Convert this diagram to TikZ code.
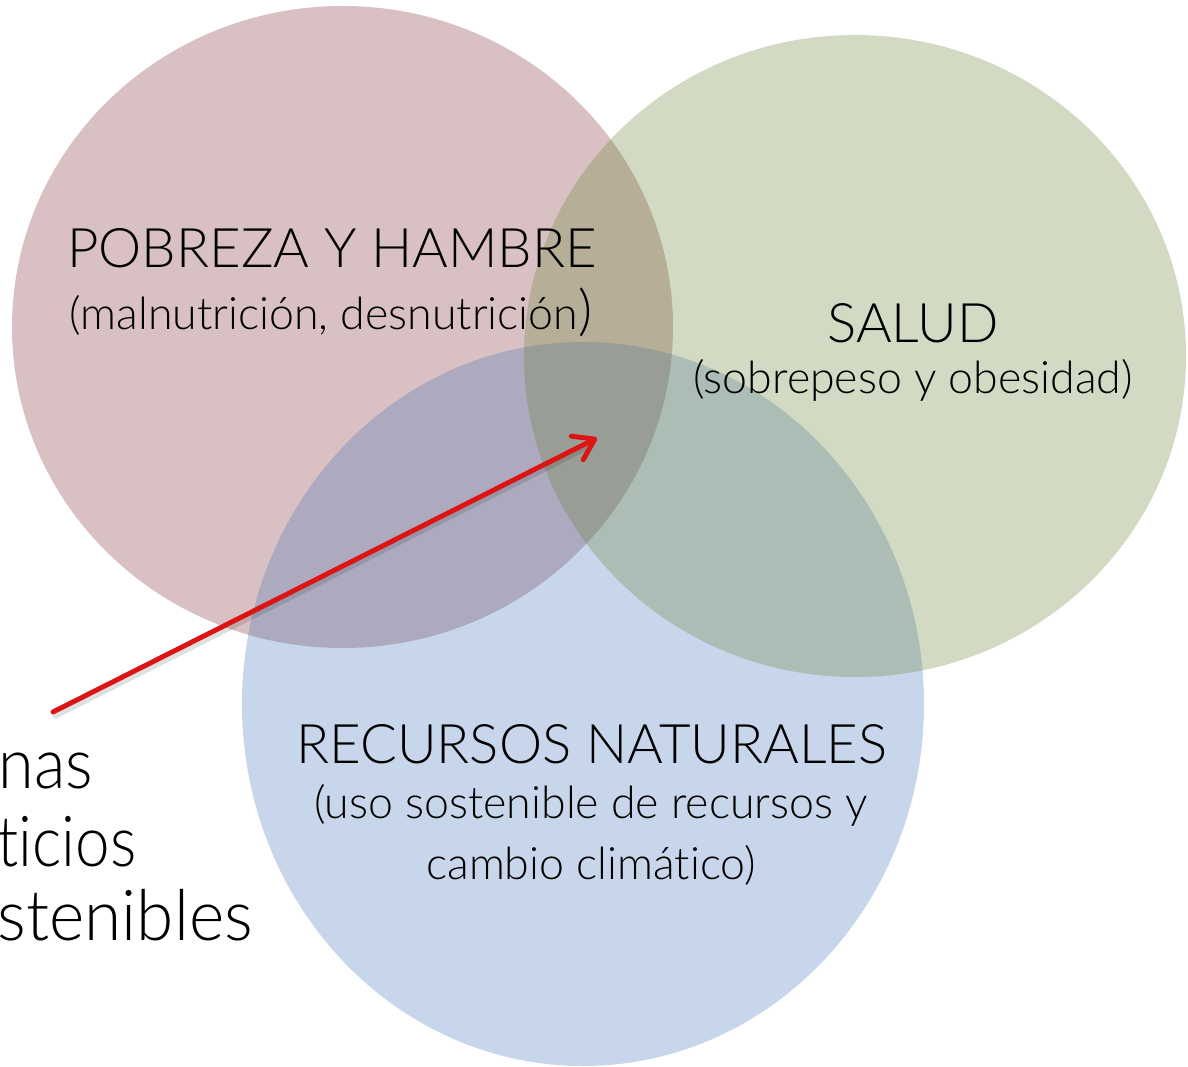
\documentclass[tikz,border=0pt]{standalone}
\usepackage{fontspec}
\usepackage{graphicx}
\setmainfont{Lato}[UprightFont={* Light}, Ligatures=NoCommon]
\usetikzlibrary{arrows.meta}
\definecolor{cred}{RGB}{128,48,52}
\definecolor{cgreen}{RGB}{105,132,55}
\definecolor{cblue}{RGB}{72,118,188}
\definecolor{arrowred}{RGB}{220,20,20}
\tikzset{
  disc/.style={fill=#1, opacity=0.3},
  titletext/.style={inner sep=0pt, anchor=base, font=\fontsize{15.5}{18}\selectfont},
  subtext/.style={inner sep=0pt, anchor=base, font=\fontsize{12.7}{15}\selectfont},
  sidetext/.style={inner sep=0pt, anchor=base west, font=\fontsize{20}{24}\selectfont},
  pointer/.style={draw=arrowred, line width=1.4pt, line cap=round,
    -{Straight Barb[length=5.6pt,width=7.5pt,line cap=round,line join=round]}},
  pointershadow/.style={draw=black, opacity=0.12, line width=1.6pt, line cap=round}
}
\begin{document}
\begin{tikzpicture}[x=0.01cm,y=-0.01cm]
\useasboundingbox (0,0) rectangle (1188,1067);
% circles
\fill[disc=cred] (342.5,327) ellipse [x radius=330.5, y radius=321];
\fill[disc=cblue] (583,704) ellipse [x radius=341, y radius=362];
\fill[disc=cgreen] (855,356) ellipse [x radius=331, y radius=321];
% labels
\node[titletext] (pob) at (332,268) {POBREZA Y HAMBRE};
\node[subtext] (pobs) at (331,330) {(malnutrición, desnutrición{\fontsize{15.5}{18}\selectfont)}};
\node[titletext] (sal) at (913,343) {SALUD};
\node[subtext] (sals) at (913,394) {(sobrepeso y obesidad)};
\node[titletext] (rec) at (592,763) {RECURSOS NATURALES};
\node[subtext] (recs1) at (591,818) {(uso sostenible de recursos y};
\node[subtext] (recs2) at (591,879) {cambio climático)};
% side text, as far as the picture shows it
\node[sidetext] (sis1) at (-2,788) {\scalebox{0.92}[1]{nas}};
\node[sidetext] (sis2) at (-3,866) {\scalebox{0.88}[1]{ticios}};
\node[sidetext] (sis3) at (-3,940) {\scalebox{0.96}[1]{stenibles}};
% arrow
\coordinate (from) at (53,712);
\coordinate (to) at (597,438);
\coordinate (froms) at (55,716);
\coordinate (tos) at (590,446);
\draw[pointershadow] (froms) -- (tos);
\draw[pointer] (from) -- (to);
\end{tikzpicture}
\end{document}
